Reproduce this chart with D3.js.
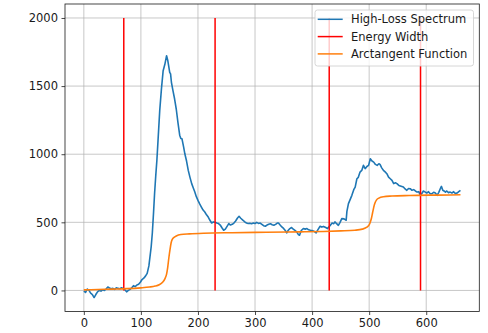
<!DOCTYPE html>
<html><head><meta charset="utf-8">
<script src="https://cdn.jsdelivr.net/npm/d3@7"></script>
<style>
html,body{margin:0;padding:0;background:#fff;}
svg{display:block;font-family:"DejaVu Sans",sans-serif;}
</style></head>
<body>
<svg id="chart" width="488" height="333"></svg>
<script>
// Energy axis samples (x) and intensity (y) of the high-loss spectrum
const specX = [0,3,6,9,12,15,18,21,24,27,30,33,36,39,42,45,48,51,54,57,60,63,66,69,72,75,78,81,84,87,90,93,96,99,102,105,108,111,114,116,118,120,122,124,126,128,130,133,136,139,142,145,147,149,150.5,152,153.5,156,159,162,165,168,170,172,175,177,180,183,186,189,192,194.5,197,200,203,206,209,212,215,218,221,224,227,230,233,236,239,242,245,248,251,254,257,260,263,266,269,272,275,279,282,285,288,291,294,297,300,303,306,309,312,315,318,321,324,327,330,333,336,339,341,344,347,350,353,355.5,358,361,364,367,370,373,376,378,381,384.7,388,391,394,397,400,403,407,410,414,417,420,424,427,430,432,435,438,440,443,446,449,452,456,459.7,461,463.7,467,469.7,473,475.5,478.5,481,484,487,490,493,496,499,502,505,508,511,514,517,519,522,525,528,531,534,537,540,543,546,548.7,552,556,560,563,566,569,572,575,578,581,584,587,589.7,592,595,598.5,601,604,607,610,613,616,619,622,625,626.6,629,632,633.6,636,639,642,645,648,651,654,657,660];
const specY = [-5,-15,10,0,-20,-30,-52,-30,-10,0,-5,5,0,10,25,18,12,15,8,20,15,12,20,15,5,-10,0,8,20,35,28,40,45,60,80,90,105,125,180,250,320,420,560,713,840,955,1100,1320,1480,1613,1660,1723,1690,1640,1601,1590,1528,1470,1407,1330,1230,1140,1115,1113,1050,1003,950,881,830,784,750,722,690,661,635,612,590,576,555,539,515,495,503,500,495,491,480,460,442,450,470,491,480,485,495,510,530,544,530,515,503,495,491,493,490,495,491,500,492,495,485,475,471,480,486,490,482,478,485,495,495,480,466,455,440,422,440,454,462,450,440,430,410,405,440,454,450,454,445,442,440,435,422,445,471,465,470,462,454,470,478,495,490,503,490,478,500,527,525,515,580,637,670,698,740,759,820,830,869,881,918,894,910,918,967,950,942,925,918,930,925,900,881,870,857,832,820,808,784,790,784,771,765,759,745,735,748,747,735,740,730,722,725,698,710,730,722,715,725,710,711,720,715,698,720,750,764,735,728,722,730,718,722,715,725,711,715,725,735];

// Energy-width markers
const widthX = [70, 230, 430, 590];
const widthY = [0, 2000];

// Arctangent function samples
const atanX = [0,25,50,75,100,115,125,132,138,142,145,147,149,151,153,155,158,162,170,185,210,260,320,380,420,450,475,488,496,501,504,506,508,510,513,517,525,540,570,620,660];
const atanY = [4,7,10,13,19,25,32,42,60,85,120,170,240,300,350,375,390,400,410,415,420,424,427,430,433,437,442,450,464,490,530,570,610,640,665,678,688,693,697,700,702];

const xTicks = [0,100,200,300,400,500,600];
const yTicks = [0,500,1000,1500,2000];
const legendLabels = ["High-Loss Spectrum","Energy Width","Arctangent Function"];
const colors = {spec:"#1f77b4", width:"#ff0000", atan:"#ff7f0e"};

const svg = d3.select("#chart");
const L = 65, R = 479.3, T = 4, B = 311.5;

const allX = specX.concat(widthX, atanX);
const allY = specY.concat(widthY, atanY);
const [x0, x1] = d3.extent(allX), [y0, y1] = d3.extent(allY);
const px = (x1 - x0) * 0.05, py = (y1 - y0) * 0.05;
const x = d3.scaleLinear().domain([x0 - px, x1 + px]).range([L, R]);
const y = d3.scaleLinear().domain([y0 - py, y1 + py]).range([B, T]);

// grid
const grid = svg.append("g");
grid.selectAll(".gx").data(xTicks).join("line")
  .attr("x1", d => x(d)).attr("x2", d => x(d)).attr("y1", T).attr("y2", B)
  .attr("stroke", "#b0b0b0").attr("stroke-width", 0.7);
grid.selectAll(".gy").data(yTicks).join("line")
  .attr("y1", d => y(d)).attr("y2", d => y(d)).attr("x1", L).attr("x2", R)
  .attr("stroke", "#b0b0b0").attr("stroke-width", 0.7);

const clip = svg.append("clipPath").attr("id","clip").append("rect")
  .attr("x", L).attr("y", T).attr("width", R - L).attr("height", B - T);
const plot = svg.append("g").attr("clip-path","url(#clip)");

const specData = specX.map((d,i) => [d, specY[i]]);
plot.append("path").datum(specData)
  .attr("fill","none").attr("stroke",colors.spec).attr("stroke-width",1.6)
  .attr("stroke-linejoin","round")
  .attr("d", d3.line().x(d => x(d[0])).y(d => y(d[1])));

plot.selectAll(".w").data(widthX).join("line")
  .attr("x1", d => x(d)).attr("x2", d => x(d))
  .attr("y1", y(widthY[0])).attr("y2", y(widthY[1]))
  .attr("stroke", colors.width).attr("stroke-width", 1.5);

const atanData = atanX.map((d,i) => [d, atanY[i]]);
plot.append("path").datum(atanData)
  .attr("fill","none").attr("stroke",colors.atan).attr("stroke-width",1.6)
  .attr("d", d3.line().curve(d3.curveMonotoneX).x(d => x(d[0])).y(d => y(d[1])));

// axes
const xAxis = svg.append("g").attr("transform", `translate(0,${B})`)
  .call(d3.axisBottom(x).tickValues(xTicks).tickSize(3.5).tickPadding(3.5));
const yAxis = svg.append("g").attr("transform", `translate(${L},0)`)
  .call(d3.axisLeft(y).tickValues(yTicks).tickSize(3.5).tickPadding(3.5).tickFormat(d3.format("d")));
[xAxis, yAxis].forEach(a => {
  a.select(".domain").remove();
  a.selectAll("text").attr("font-size", "11.5px").attr("fill", "#1a1a1a")
    .attr("font-family", "DejaVu Sans, sans-serif");
  a.selectAll("line").attr("stroke", "#1a1a1a").attr("stroke-width", 0.8);
});

svg.append("rect").attr("x", L).attr("y", T).attr("width", R - L).attr("height", B - T)
  .attr("fill","none").attr("stroke","#1a1a1a").attr("stroke-width",0.8);

// legend
const lg = svg.append("g");
lg.append("rect").attr("x", 315).attr("y", 10).attr("width", 158.5).attr("height", 56)
  .attr("rx", 2.5).attr("fill", "#fff").attr("fill-opacity", 0.8)
  .attr("stroke", "#cccccc").attr("stroke-width", 0.8);
const lcol = [colors.spec, colors.width, colors.atan];
legendLabels.forEach((t, i) => {
  const cy = 19.3 + i * 17.3;
  lg.append("line").attr("x1", 317.7).attr("x2", 342.7).attr("y1", cy).attr("y2", cy)
    .attr("stroke", lcol[i]).attr("stroke-width", 1.5);
  lg.append("text").attr("x", 351).attr("y", cy).attr("dy", "0.35em")
    .attr("font-size", "11.5px").attr("fill", "#1a1a1a").text(t);
});
</script>
</body></html>
